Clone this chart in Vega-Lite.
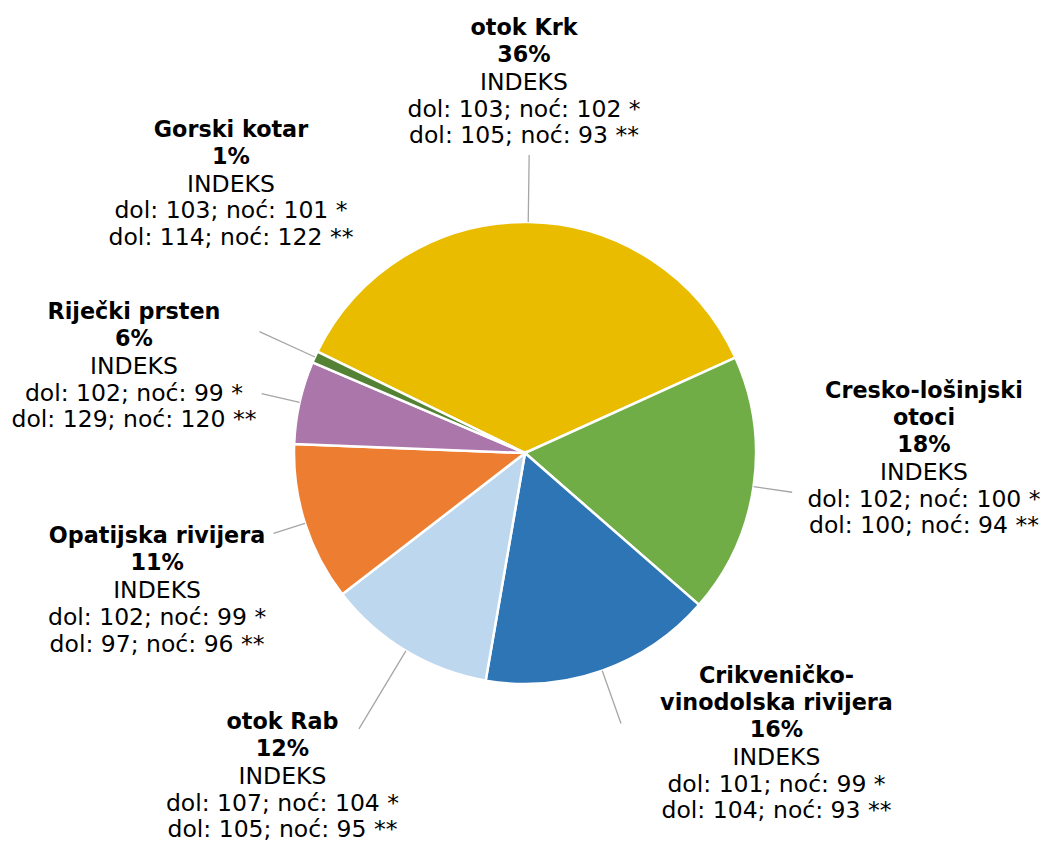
{
  "$schema": "https://vega.github.io/schema/vega-lite/v6.json",
  "width": 1038,
  "height": 778,
  "autosize": {"type": "none"},
  "padding": {"left": 6, "top": 64, "right": 0, "bottom": 0},
  "background": "white",
  "view": {"stroke": null},
  "data": {"values": [
    {"name": "otok Krk", "value": 36.0, "order": 1, "label": "otok Krk\n36%", "indeks": "INDEKS\ndol: 103; noć: 102 *\ndol: 105; noć: 93 **"},
    {"name": "Cresko-lošinjski otoci", "value": 18.2, "order": 2, "label": "Cresko-lošinjski\notoci\n18%", "indeks": "INDEKS\ndol: 102; noć: 100 *\ndol: 100; noć: 94 **"},
    {"name": "Crikveničko-vinodolska rivijera", "value": 16.3, "order": 3, "label": "Crikveničko-\nvinodolska rivijera\n16%", "indeks": "INDEKS\ndol: 101; noć: 99 *\ndol: 104; noć: 93 **"},
    {"name": "otok Rab", "value": 11.8, "order": 4, "label": "otok Rab\n12%", "indeks": "INDEKS\ndol: 107; noć: 104 *\ndol: 105; noć: 95 **"},
    {"name": "Opatijska rivijera", "value": 11.1, "order": 5, "label": "Opatijska rivijera\n11%", "indeks": "INDEKS\ndol: 102; noć: 99 *\ndol: 97; noć: 96 **"},
    {"name": "Riječki prsten", "value": 5.8, "order": 6, "label": "Riječki prsten\n6%", "indeks": "INDEKS\ndol: 102; noć: 99 *\ndol: 129; noć: 120 **"},
    {"name": "Gorski kotar", "value": 0.8, "order": 7, "label": "Gorski kotar\n1%", "indeks": "INDEKS\ndol: 103; noć: 101 *\ndol: 114; noć: 122 **"}
  ]},
  "encoding": {
    "theta": {"field": "value", "type": "quantitative", "stack": true, "scale": {"range": [-1.11701, 5.16617]}},
    "order": {"field": "order", "type": "quantitative"},
    "detail": {"field": "name", "type": "nominal"}
  },
  "layer": [
    {
      "mark": {"type": "arc", "outerRadius": 231, "stroke": "white", "strokeWidth": 2.5},
      "encoding": {
        "color": {"field": "name", "type": "nominal", "legend": null,
          "scale": {
            "domain": ["otok Krk", "Cresko-lošinjski otoci", "Crikveničko-vinodolska rivijera", "otok Rab", "Opatijska rivijera", "Riječki prsten", "Gorski kotar"],
            "range": ["#E9BC00", "#70AD47", "#2E75B6", "#BDD7EE", "#ED7D31", "#AB77AB", "#548235"]
          }}
      }
    },
    {"mark": {"type": "arc", "filled": false, "fill": null, "stroke": "#A6A6A6", "strokeWidth": 1.3, "innerRadius": 231, "outerRadius": 298, "padAngle": 3.14159},
     "encoding": {"strokeOpacity": {"condition": {"test": "datum.name === 'otok Krk'", "value": 1}, "value": 0}}},
    {"mark": {"type": "arc", "filled": false, "fill": null, "stroke": "#A6A6A6", "strokeWidth": 1.3, "innerRadius": 231, "outerRadius": 270, "padAngle": 3.14159},
     "encoding": {"strokeOpacity": {"condition": {"test": "datum.name === 'Cresko-lošinjski otoci'", "value": 1}, "value": 0}}},
    {"mark": {"type": "arc", "filled": false, "fill": null, "stroke": "#A6A6A6", "strokeWidth": 1.3, "innerRadius": 231, "outerRadius": 287, "padAngle": 3.14159},
     "encoding": {"strokeOpacity": {"condition": {"test": "datum.name === 'Crikveničko-vinodolska rivijera'", "value": 1}, "value": 0}}},
    {"mark": {"type": "arc", "filled": false, "fill": null, "stroke": "#A6A6A6", "strokeWidth": 1.3, "innerRadius": 231, "outerRadius": 322, "padAngle": 3.14159},
     "encoding": {"strokeOpacity": {"condition": {"test": "datum.name === 'otok Rab'", "value": 1}, "value": 0}}},
    {"mark": {"type": "arc", "filled": false, "fill": null, "stroke": "#A6A6A6", "strokeWidth": 1.3, "innerRadius": 231, "outerRadius": 264, "padAngle": 3.14159},
     "encoding": {"strokeOpacity": {"condition": {"test": "datum.name === 'Opatijska rivijera'", "value": 1}, "value": 0}}},
    {"mark": {"type": "arc", "filled": false, "fill": null, "stroke": "#A6A6A6", "strokeWidth": 1.3, "innerRadius": 231, "outerRadius": 270, "padAngle": 3.14159},
     "encoding": {"strokeOpacity": {"condition": {"test": "datum.name === 'Riječki prsten'", "value": 1}, "value": 0}}},
    {"mark": {"type": "arc", "filled": false, "fill": null, "stroke": "#A6A6A6", "strokeWidth": 1.3, "innerRadius": 231, "outerRadius": 292, "padAngle": 3.14159},
     "encoding": {"strokeOpacity": {"condition": {"test": "datum.name === 'Gorski kotar'", "value": 1}, "value": 0}}},

    {"mark": {"type": "text", "radius": 380, "dx": -6.3, "dy": -38, "align": "center", "baseline": "alphabetic", "font": "DejaVu Sans", "fontSize": 22.3, "fontWeight": "bold", "lineBreak": "\n", "lineHeight": 27, "color": "#000000"},
     "encoding": {"text": {"condition": {"test": "datum.name === 'otok Krk'", "field": "label", "type": "nominal"}, "value": ""}}},
    {"mark": {"type": "text", "radius": 380, "dx": -6.3, "dy": 17, "align": "center", "baseline": "alphabetic", "font": "DejaVu Sans", "fontSize": 23.5, "lineBreak": "\n", "lineHeight": 26.7, "color": "#000000"},
     "encoding": {"text": {"condition": {"test": "datum.name === 'otok Krk'", "field": "indeks", "type": "nominal"}, "value": ""}}},

    {"mark": {"type": "text", "radius": 380, "dx": 23, "dy": -110.3, "align": "center", "baseline": "alphabetic", "font": "DejaVu Sans", "fontSize": 22.3, "fontWeight": "bold", "lineBreak": "\n", "lineHeight": 27, "color": "#000000"},
     "encoding": {"text": {"condition": {"test": "datum.name === 'Cresko-lošinjski otoci'", "field": "label", "type": "nominal"}, "value": ""}}},
    {"mark": {"type": "text", "radius": 380, "dx": 23, "dy": -28.3, "align": "center", "baseline": "alphabetic", "font": "DejaVu Sans", "fontSize": 23.5, "lineBreak": "\n", "lineHeight": 26.7, "color": "#000000"},
     "encoding": {"text": {"condition": {"test": "datum.name === 'Cresko-lošinjski otoci'", "field": "indeks", "type": "nominal"}, "value": ""}}},

    {"mark": {"type": "text", "radius": 380, "dx": 124.4, "dy": -128.1, "align": "center", "baseline": "alphabetic", "font": "DejaVu Sans", "fontSize": 22.3, "fontWeight": "bold", "lineBreak": "\n", "lineHeight": 27, "color": "#000000"},
     "encoding": {"text": {"condition": {"test": "datum.name === 'Crikveničko-vinodolska rivijera'", "field": "label", "type": "nominal"}, "value": ""}}},
    {"mark": {"type": "text", "radius": 380, "dx": 124.4, "dy": -46.1, "align": "center", "baseline": "alphabetic", "font": "DejaVu Sans", "fontSize": 23.5, "lineBreak": "\n", "lineHeight": 26.7, "color": "#000000"},
     "encoding": {"text": {"condition": {"test": "datum.name === 'Crikveničko-vinodolska rivijera'", "field": "indeks", "type": "nominal"}, "value": ""}}},

    {"mark": {"type": "text", "radius": 380, "dx": -46.6, "dy": -49.6, "align": "center", "baseline": "alphabetic", "font": "DejaVu Sans", "fontSize": 22.3, "fontWeight": "bold", "lineBreak": "\n", "lineHeight": 27, "color": "#000000"},
     "encoding": {"text": {"condition": {"test": "datum.name === 'otok Rab'", "field": "label", "type": "nominal"}, "value": ""}}},
    {"mark": {"type": "text", "radius": 380, "dx": -46.6, "dy": 5.4, "align": "center", "baseline": "alphabetic", "font": "DejaVu Sans", "fontSize": 23.5, "lineBreak": "\n", "lineHeight": 26.7, "color": "#000000"},
     "encoding": {"text": {"condition": {"test": "datum.name === 'otok Rab'", "field": "indeks", "type": "nominal"}, "value": ""}}},

    {"mark": {"type": "text", "radius": 380, "dx": -6, "dy": -25.3, "align": "center", "baseline": "alphabetic", "font": "DejaVu Sans", "fontSize": 22.3, "fontWeight": "bold", "lineBreak": "\n", "lineHeight": 27, "color": "#000000"},
     "encoding": {"text": {"condition": {"test": "datum.name === 'Opatijska rivijera'", "field": "label", "type": "nominal"}, "value": ""}}},
    {"mark": {"type": "text", "radius": 380, "dx": -6, "dy": 29.7, "align": "center", "baseline": "alphabetic", "font": "DejaVu Sans", "fontSize": 23.5, "lineBreak": "\n", "lineHeight": 26.7, "color": "#000000"},
     "encoding": {"text": {"condition": {"test": "datum.name === 'Opatijska rivijera'", "field": "indeks", "type": "nominal"}, "value": ""}}},

    {"mark": {"type": "text", "radius": 380, "dx": -20.3, "dy": -50.6, "align": "center", "baseline": "alphabetic", "font": "DejaVu Sans", "fontSize": 22.3, "fontWeight": "bold", "lineBreak": "\n", "lineHeight": 27, "color": "#000000"},
     "encoding": {"text": {"condition": {"test": "datum.name === 'Riječki prsten'", "field": "label", "type": "nominal"}, "value": ""}}},
    {"mark": {"type": "text", "radius": 380, "dx": -20.3, "dy": 4.4, "align": "center", "baseline": "alphabetic", "font": "DejaVu Sans", "fontSize": 23.5, "lineBreak": "\n", "lineHeight": 26.7, "color": "#000000"},
     "encoding": {"text": {"condition": {"test": "datum.name === 'Riječki prsten'", "field": "indeks", "type": "nominal"}, "value": ""}}},

    {"mark": {"type": "text", "radius": 380, "dx": 51.6, "dy": -158.5, "align": "center", "baseline": "alphabetic", "font": "DejaVu Sans", "fontSize": 22.3, "fontWeight": "bold", "lineBreak": "\n", "lineHeight": 27, "color": "#000000"},
     "encoding": {"text": {"condition": {"test": "datum.name === 'Gorski kotar'", "field": "label", "type": "nominal"}, "value": ""}}},
    {"mark": {"type": "text", "radius": 380, "dx": 51.6, "dy": -103.5, "align": "center", "baseline": "alphabetic", "font": "DejaVu Sans", "fontSize": 23.5, "lineBreak": "\n", "lineHeight": 26.7, "color": "#000000"},
     "encoding": {"text": {"condition": {"test": "datum.name === 'Gorski kotar'", "field": "indeks", "type": "nominal"}, "value": ""}}}
  ]
}
